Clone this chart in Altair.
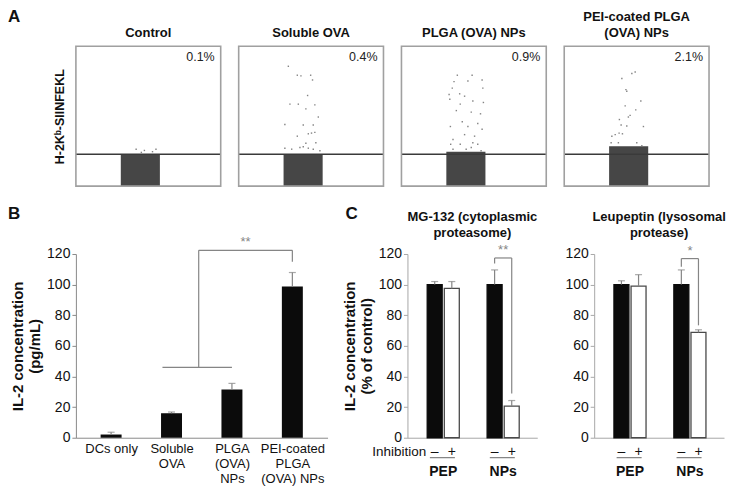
import json
import altair as alt
import pandas as pd

FONT = "Liberation Sans"

# ---------------- Panel A: flow cytometry ----------------
flow_titles = [["Control"], ["Soluble OVA"], ["PLGA (OVA) NPs"], ["PEI-coated PLGA", "(OVA) NPs"]]
flow_percent = ["0.1%", "0.4%", "0.9%", "2.1%"]
flow_y_title = "H-2Kᵇ-SIINFEKL"
gate_level = 22.8
cloud_left = 31
cloud_right = 58
cloud_top = [22.5, 22.8, 24.5, 28.5]

ctrl_x = [41.6, 47.3, 52.9, 55.3, 45.2]
ctrl_y = [26.4, 25.5, 24.6, 26.4, 24.1]
sol_x = [34.3, 40.5, 43.0, 49.7, 51.0, 47.6, 35.4, 41.2, 52.6, 46.4, 55.0, 31.9, 51.5, 44.6,
         40.5, 48.1, 50.3, 52.6, 46.4, 53.3, 31.9, 36.6, 42.3, 44.6, 48.1, 51.5, 56.1]
sol_y = [85.7, 79.3, 78.8, 79.3, 75.9, 64.8, 58.6, 58.6, 58.1, 55.2, 49.4, 44.1, 43.7, 43.7,
         35.7, 37.4, 37.9, 38.4, 30.6, 31.0, 27.1, 26.4, 27.6, 28.1, 27.1, 26.4, 25.3]
plga_x = [38.6, 48.8, 36.3, 45.9, 55.7, 35.1, 56.2, 32.9, 40.2, 43.6, 33.4, 49.3, 56.6, 40.6,
          37.9, 48.2, 54.6, 42.0, 52.7, 33.8, 45.9, 55.7, 43.6, 50.5, 35.6, 34.0, 40.6, 49.3,
          52.7, 35.6, 44.7, 55.0, 48.2]
plga_y = [79.3, 79.3, 74.7, 75.2, 75.9, 70.1, 70.1, 65.5, 66.0, 64.3, 62.1, 60.9, 59.8, 58.6,
          54.0, 52.9, 51.7, 46.0, 44.8, 42.6, 42.6, 40.7, 36.8, 35.7, 33.3, 29.9, 29.9, 31.0,
          29.9, 26.4, 26.4, 25.3, 27.6]
pei_x = [46.7, 49.0, 39.8, 42.6, 43.2, 52.9, 42.1, 49.4, 45.5, 38.1, 44.3, 39.3, 54.7, 43.2,
         35.2, 37.9, 32.9, 40.2, 32.4, 37.4, 50.1, 53.6]
pei_y = [80.5, 81.6, 77.0, 69.0, 67.8, 60.9, 57.4, 54.5, 50.6, 47.6, 49.4, 43.7, 42.6, 43.0,
         36.8, 37.9, 35.7, 37.4, 31.0, 31.0, 31.0, 28.8]
flow_points = [(ctrl_x, ctrl_y), (sol_x, sol_y), (plga_x, plga_y), (pei_x, pei_y)]

# ---------------- Panel B ----------------
b_categories = ["DCs only", "Soluble OVA", "PLGA (OVA) NPs", "PEI-coated PLGA (OVA) NPs"]
b_labels = [["DCs only"], ["Soluble", "OVA"], ["PLGA", "(OVA)", "NPs"], ["PEI-coated", "PLGA", "(OVA) NPs"]]
b_values = [2.1, 16.0, 31.5, 98.7]
b_err_top = [3.6, 16.8, 35.5, 107.9]
b_bracket_y = [46, 122.4, 115]
b_star = "**"
b_y_title = ["IL-2 concentration", "(pg/mL)"]
y_ticks = [0, 20, 40, 60, 80, 100, 120]

# ---------------- Panel C ----------------
c_groups = ["PEP", "NPs"]
c_inhibition = ["–", "+"]
c_y_title = ["IL-2 concentration", "(% of control)"]
mg_title = ["MG-132 (cytoplasmic", "proteasome)"]
mg_values = [100, 97.5, 100, 20.7]
mg_err_top = [102, 102, 109.6, 24.3]
mg_bracket_y = [113.8, 117.4, 28.9]
mg_star = "**"
leu_title = ["Leupeptin (lysosomal", "protease)"]
leu_values = [100, 99, 100, 68.8]
leu_err_top = [102.5, 106.5, 109.6, 70.5]
leu_bracket_y = [111.7, 117.0, 73.4]
leu_star = "*"

ONE = pd.DataFrame({"k": [0]})
GRAY = "#858585"
LH = 16  # title line height


def letter(txt, dx, dy):
    return alt.Chart(ONE).mark_text(text=txt, font=FONT, fontSize=17, fontWeight="bold",
                                    align="left", baseline="top", color="#111").encode(
        x=alt.value(dx), y=alt.value(dy))


def title_text(lines, width, gap):
    return alt.Chart(ONE).mark_text(text=lines, font=FONT, fontSize=13, fontWeight="bold",
                                    lineHeight=LH, align="center", baseline="bottom", color="#111").encode(
        x=alt.value(width / 2), y=alt.value(-gap - LH * (len(lines) - 1)))


# ---------- flow panels ----------
WF, HF = 145, 140


def flow_panel(i):
    xs, ys = flow_points[i]
    sc = alt.Scale(domain=[0, 100], nice=False, zero=False)
    if i == 0:
        yaxis = alt.Axis(title=flow_y_title, labels=False, ticks=False, domain=False, grid=False,
                         titleFont=FONT, titleFontSize=12.5, titleFontWeight="bold",
                         titleColor="#111", titlePadding=9)
    else:
        yaxis = None
    cloud = pd.DataFrame({"x": [cloud_left], "x2": [cloud_right], "y": [0], "y2": [cloud_top[i]]})
    core = alt.Chart(cloud).mark_rect(color="#464646").encode(
        x=alt.X("x:Q", scale=sc, axis=None), x2="x2:Q",
        y=alt.Y("y:Q", scale=sc, axis=yaxis), y2="y2:Q")
    pts = alt.Chart(pd.DataFrame({"x": xs, "y": ys})).mark_square(size=2, color="#777", opacity=0.9).encode(
        x=alt.X("x:Q", scale=sc, axis=None), y=alt.Y("y:Q", scale=sc, axis=yaxis))
    gate = alt.Chart(ONE).mark_rule(color="#3a3a3a", strokeWidth=1.5).encode(y=alt.datum(gate_level))
    frame = alt.Chart(ONE).mark_rect(fillOpacity=0, stroke="#a0a0a0", strokeWidth=1.6).encode(
        x=alt.datum(0), x2=alt.datum(100), y=alt.datum(0), y2=alt.datum(100))
    pct = alt.Chart(ONE).mark_text(text=flow_percent[i], font=FONT, fontSize=12.5, align="right",
                                   baseline="middle", color="#222").encode(
        x=alt.value(WF - 6), y=alt.value(11))
    layers = [core, pts, gate, frame, pct, title_text(flow_titles[i], WF, 6)]
    if i == 0:
        layers.append(letter("A", -68, -37))
    return alt.layer(*layers).properties(width=WF, height=HF)


flows = [flow_panel(i) for i in range(4)]


def y_axis(title, color):
    return alt.Axis(values=y_ticks, grid=False, tickSize=4, tickColor=color, domainColor=color,
                    labelFont=FONT, labelFontSize=14, labelColor="#111", labelPadding=2,
                    labelOverlap=False, labelFlush=False,
                    title=title, titleFont=FONT, titleFontSize=15, titleFontWeight="bold",
                    titleColor="#111", titlePadding=4, titleLineHeight=17)


# ---------- panel B ----------
WB, HB = 252, 184
b_pos = [i + 1 for i in range(len(b_categories))]
bdf = pd.DataFrame({"pos": b_pos, "cat": b_categories, "value": b_values, "err": b_err_top})
label_expr = " : ".join(f"datum.value == {p} ? {json.dumps(l)}" for p, l in zip(b_pos, b_labels)) + " : ''"
xB = alt.Scale(domain=[0.5, len(b_pos) + 0.5], nice=False, zero=False)
yB = alt.Scale(domain=[0, 120], nice=False)
xB_axis = alt.Axis(values=b_pos, labelExpr=label_expr, ticks=False, grid=False, title=None,
                   domainColor="#8a8a8a", labelFont=FONT, labelFontSize=13, labelColor="#111",
                   labelPadding=5, labelLineHeight=15, labelOverlap=False, labelFlush=False,
                   labelBound=False)
yaxB = y_axis(b_y_title, "#8a8a8a")


def XB(f):
    return alt.X(f, scale=xB, axis=xB_axis)


def YB(f):
    return alt.Y(f, scale=yB, axis=yaxB)


b_bars = alt.Chart(bdf).mark_bar(width=21, color="#0b0b0b").encode(
    x=XB("pos:Q"), y=YB("value:Q"), y2=alt.datum(0))
b_err = alt.Chart(bdf).mark_rule(color=GRAY, strokeWidth=1.2).encode(x=XB("pos:Q"), y=YB("value:Q"), y2="err:Q")
b_cap = alt.Chart(bdf).mark_tick(orient="horizontal", size=7, thickness=1.2, color=GRAY).encode(
    x=XB("pos:Q"), y=YB("err:Q"))
stem = (b_pos[1] + b_pos[2]) / 2 - 0.05
b_seg = pd.DataFrame({
    "x": [b_pos[1] - 0.15, stem, stem, b_pos[3]],
    "x2": [b_pos[2], stem, b_pos[3], b_pos[3]],
    "y": [b_bracket_y[0], b_bracket_y[0], b_bracket_y[1], b_bracket_y[1]],
    "y2": [b_bracket_y[0], b_bracket_y[1], b_bracket_y[1], b_bracket_y[2]],
})
b_br = alt.Chart(b_seg).mark_rule(color=GRAY, strokeWidth=1.2).encode(
    x=XB("x:Q"), x2="x2:Q", y=YB("y:Q"), y2="y2:Q")
b_st = alt.Chart(pd.DataFrame({"x": [(stem + b_pos[3]) / 2], "y": [b_bracket_y[1]]})).mark_text(
    text=b_star, font=FONT, fontSize=13, color=GRAY, baseline="bottom", dy=-1).encode(x=XB("x:Q"), y=YB("y:Q"))
panel_b = alt.layer(b_bars, b_err, b_cap, b_br, b_st, letter("B", -68, -48)).properties(width=WB, height=HB)

# ---------- panel C ----------
WC, HC = 130, 184
C_STEP = 3.5


def c_panel(title_lines, values, err, bracket, star, first):
    rows = []
    for g, grp in enumerate(c_groups):
        for k, inh in enumerate(c_inhibition):
            rows.append({"group": grp, "inh": inh, "pos": 1 + k + C_STEP * g})
    df = pd.DataFrame(rows)
    df["value"] = values
    df["err"] = err
    xC = alt.Scale(domain=[-0.3, 1 + C_STEP + 1 + 1.2], nice=False, zero=False)
    yC = alt.Scale(domain=[0, 120], nice=False)
    x_axis = alt.Axis(labels=False, ticks=False, grid=False, title=None, domainColor="#a8a8a8")
    yax = y_axis(c_y_title if first else None, "#a8a8a8")

    def XC(f):
        return alt.X(f, scale=xC, axis=x_axis)

    def YC(f):
        return alt.Y(f, scale=yC, axis=yax)

    bars = alt.Chart(df).mark_bar(width=15, strokeWidth=1.3).encode(
        x=XC("pos:Q"), y=YC("value:Q"), y2=alt.datum(0),
        fill=alt.Fill("inh:N", scale=alt.Scale(domain=c_inhibition, range=["#0b0b0b", "#ffffff"]), legend=None),
        stroke=alt.Stroke("inh:N", scale=alt.Scale(domain=c_inhibition, range=["#0b0b0b", "#4a4a4a"]), legend=None))
    err_r = alt.Chart(df).mark_rule(color=GRAY, strokeWidth=1.2).encode(x=XC("pos:Q"), y=YC("value:Q"), y2="err:Q")
    cap = alt.Chart(df).mark_tick(orient="horizontal", size=7, thickness=1.2, color=GRAY).encode(
        x=XC("pos:Q"), y=YC("err:Q"))
    a, b = df["pos"].iloc[2], df["pos"].iloc[3]
    seg = pd.DataFrame({"x": [a, a, b], "x2": [a, b, b],
                        "y": [bracket[0], bracket[1], bracket[1]],
                        "y2": [bracket[1], bracket[1], bracket[2]]})
    br = alt.Chart(seg).mark_rule(color=GRAY, strokeWidth=1.2).encode(
        x=XC("x:Q"), x2="x2:Q", y=YC("y:Q"), y2="y2:Q")
    st = alt.Chart(pd.DataFrame({"x": [(a + b) / 2], "y": [bracket[1]]})).mark_text(
        text=star, font=FONT, fontSize=13, color=GRAY, baseline="bottom", dy=-1).encode(x=XC("x:Q"), y=YC("y:Q"))
    signs = alt.Chart(df).mark_text(font=FONT, fontSize=14, color="#111", baseline="middle").encode(
        x=XC("pos:Q"), y=alt.value(HC + 14), text="inh:N")
    gdf = df.groupby("group", sort=False)["pos"].agg(["min", "max"]).reset_index()
    gdf["x"] = gdf["min"] - 0.28
    gdf["x2"] = gdf["max"] + 0.18
    gdf["c"] = (gdf["min"] + gdf["max"]) / 2
    ul = alt.Chart(gdf).mark_rule(color="#666", strokeWidth=1).encode(x=XC("x:Q"), x2="x2:Q", y=alt.value(HC + 20))
    glab = alt.Chart(gdf).mark_text(font=FONT, fontSize=14, fontWeight="bold", color="#111",
                                    baseline="middle").encode(x=XC("c:Q"), y=alt.value(HC + 34), text="group:N")
    layers = [bars, err_r, cap, br, st, signs, ul, glab, title_text(title_lines, WC, 14)]
    if first:
        layers.append(alt.Chart(ONE).mark_text(text="Inhibition", font=FONT, fontSize=13.5, align="right",
                                               baseline="middle", color="#111").encode(
            x=alt.datum(df["pos"].iloc[0] - 0.5), y=alt.value(HC + 14)))
        layers.append(letter("C", -62, -48))
    return alt.layer(*layers).properties(width=WC, height=HC)


c1 = c_panel(mg_title, mg_values, mg_err_top, mg_bracket_y, mg_star, True)
c2 = c_panel(leu_title, leu_values, leu_err_top, leu_bracket_y, leu_star, False)

top = alt.hconcat(*flows, spacing=16)
bottom = alt.hconcat(panel_b, alt.hconcat(c1, c2, spacing=26), spacing=14)
chart = alt.vconcat(top, bottom, spacing=18).properties(padding=0).configure(
    font=FONT).configure_view(stroke=None)

chart.save("out.html", embed_options={"renderer": "svg", "actions": False})
